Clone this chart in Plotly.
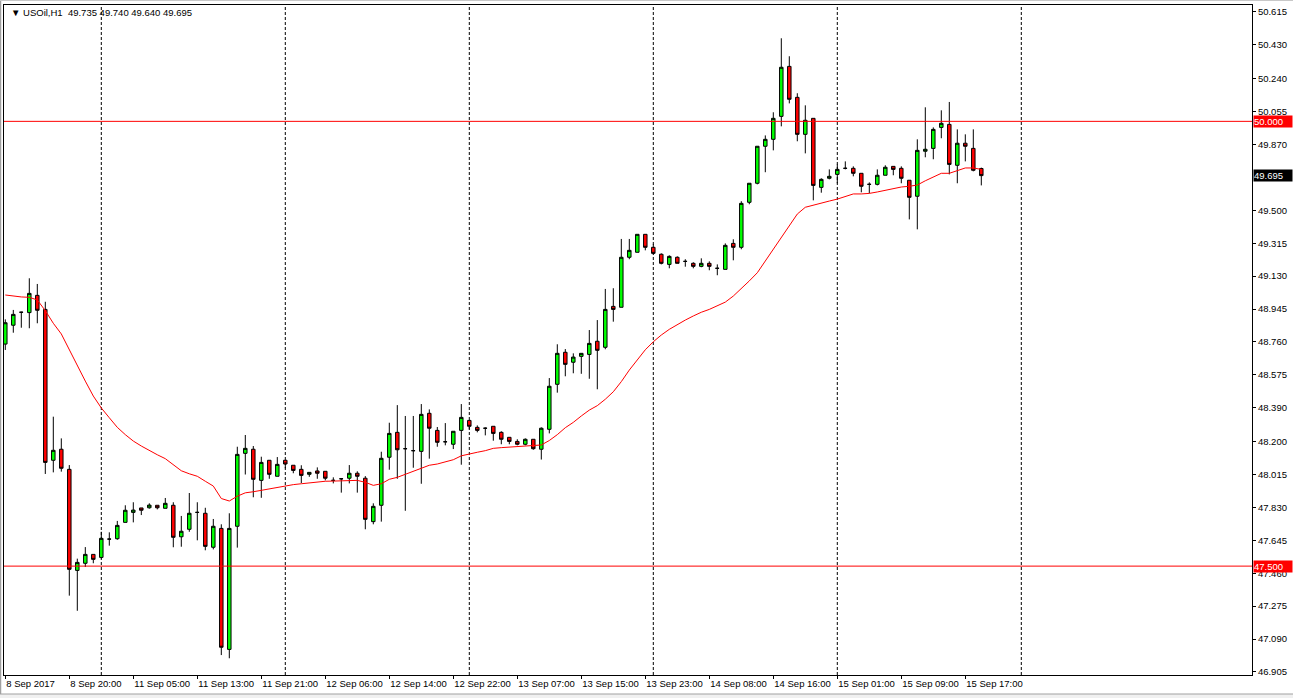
import plotly.graph_objects as go

# ---------------- data ----------------
symbol = "USOil,H1"

opens = [48.748, 48.854, 48.927, 48.925, 49.022, 48.943, 48.095, 48.157, 48.044, 47.476,
         47.516, 47.566, 47.549, 47.652, 47.654, 47.746, 47.802, 47.827, 47.828, 47.842,
         47.825, 47.842, 47.665, 47.707, 47.802, 47.797, 47.606, 47.712, 47.032, 47.724,
         48.134, 48.157, 47.982, 48.095, 48.005, 48.095, 48.067, 48.044, 48.016, 48.035,
         48.033, 47.982, 47.991, 47.994, 48.022, 47.994, 47.750, 47.842, 48.112, 48.252,
         48.160, 48.149, 48.145, 48.359, 48.263, 48.199, 48.185, 48.263, 48.319, 48.280,
         48.275, 48.286, 48.252, 48.224, 48.201, 48.185, 48.213, 48.157, 48.269, 48.522,
         48.702, 48.646, 48.679, 48.690, 48.764, 48.730, 48.960, 48.955, 49.236, 49.264,
         49.365, 49.292, 49.253, 49.196, 49.236, 49.213, 49.202, 49.185, 49.202, 49.174,
         49.168, 49.314, 49.292, 49.545, 49.652, 49.860, 49.899, 50.028, 50.309, 50.135,
         49.927, 50.017, 49.629, 49.680, 49.702, 49.736, 49.736, 49.708, 49.646, 49.646,
         49.697, 49.747, 49.736, 49.669, 49.579, 49.832, 49.848, 49.966, 49.983, 49.753,
         49.877, 49.848, 49.735]

highs = [48.887, 48.940, 48.930, 49.118, 49.086, 48.986, 48.340, 48.218, 48.068, 47.542,
         47.607, 47.566, 47.693, 47.690, 47.754, 47.842, 47.859, 47.827, 47.853, 47.842,
         47.883, 47.859, 47.782, 47.911, 47.859, 47.828, 47.765, 47.735, 47.797, 48.171,
         48.237, 48.175, 48.115, 48.095, 48.113, 48.095, 48.067, 48.067, 48.027, 48.055,
         48.033, 47.999, 47.991, 48.068, 48.033, 48.006, 47.853, 48.143, 48.306, 48.405,
         48.344, 48.344, 48.411, 48.381, 48.282, 48.304, 48.258, 48.411, 48.319, 48.291,
         48.280, 48.286, 48.258, 48.224, 48.213, 48.218, 48.213, 48.280, 48.557, 48.747,
         48.720, 48.696, 48.696, 48.827, 48.883, 49.058, 49.062, 49.339, 49.339, 49.365,
         49.365, 49.309, 49.258, 49.247, 49.241, 49.225, 49.208, 49.230, 49.213, 49.196,
         49.314, 49.337, 49.551, 49.652, 49.860, 49.921, 50.051, 50.467, 50.366, 50.158,
         50.090, 50.017, 49.680, 49.730, 49.758, 49.775, 49.747, 49.708, 49.657, 49.730,
         49.753, 49.747, 49.747, 49.669, 49.899, 50.079, 49.966, 50.062, 50.109, 49.955,
         49.927, 49.955, 49.740]

lows = [48.715, 48.812, 48.840, 48.837, 48.865, 48.018, 48.027, 48.031, 47.334, 47.249,
        47.495, 47.516, 47.542, 47.615, 47.648, 47.746, 47.746, 47.787, 47.823, 47.819,
        47.825, 47.606, 47.609, 47.693, 47.645, 47.589, 47.594, 47.000, 46.982, 47.604,
        48.015, 47.887, 47.884, 47.991, 48.005, 48.050, 48.022, 47.967, 48.002, 47.991,
        47.982, 47.965, 47.913, 47.965, 47.913, 47.707, 47.735, 47.750, 48.042, 47.991,
        47.811, 48.053, 47.963, 48.104, 48.171, 48.179, 48.158, 48.070, 48.269, 48.252,
        48.235, 48.205, 48.185, 48.185, 48.179, 48.179, 48.154, 48.099, 48.246, 48.475,
        48.567, 48.584, 48.581, 48.553, 48.494, 48.719, 48.874, 48.955, 49.225, 49.264,
        49.275, 49.253, 49.196, 49.174, 49.202, 49.183, 49.174, 49.180, 49.163, 49.135,
        49.168, 49.219, 49.281, 49.534, 49.646, 49.714, 49.837, 49.972, 50.101, 49.888,
        49.820, 49.556, 49.599, 49.674, 49.652, 49.730, 49.691, 49.601, 49.596, 49.640,
        49.697, 49.697, 49.652, 49.449, 49.393, 49.798, 49.787, 49.905, 49.702, 49.652,
        49.775, 49.719, 49.640]

closes = [48.868, 48.915, 48.927, 49.033, 48.938, 48.083, 48.151, 48.050, 47.482, 47.521,
          47.566, 47.538, 47.656, 47.652, 47.729, 47.814, 47.815, 47.814, 47.843, 47.828,
          47.853, 47.662, 47.696, 47.797, 47.802, 47.611, 47.724, 47.044, 47.712, 48.128,
          48.162, 47.988, 48.083, 48.016, 48.072, 48.074, 48.038, 48.010, 48.027, 48.022,
          47.994, 47.982, 47.991, 48.022, 48.005, 47.763, 47.836, 48.106, 48.246, 48.154,
          48.160, 48.149, 48.353, 48.275, 48.196, 48.199, 48.258, 48.336, 48.286, 48.263,
          48.275, 48.246, 48.213, 48.201, 48.185, 48.213, 48.160, 48.275, 48.511, 48.696,
          48.634, 48.675, 48.696, 48.752, 48.713, 48.943, 48.943, 49.236, 49.275, 49.365,
          49.292, 49.258, 49.202, 49.241, 49.202, 49.213, 49.185, 49.202, 49.185, 49.174,
          49.303, 49.292, 49.539, 49.652, 49.860, 49.899, 50.017, 50.304, 50.124, 49.927,
          50.006, 49.640, 49.674, 49.691, 49.730, 49.736, 49.708, 49.635, 49.646, 49.697,
          49.742, 49.730, 49.680, 49.573, 49.837, 49.843, 49.955, 49.989, 49.758, 49.877,
          49.860, 49.725, 49.695]

moving_avg = [49.024, 49.018, 49.013, 49.011, 48.996, 48.936, 48.865, 48.805, 48.715, 48.621,
              48.540, 48.456, 48.389, 48.334, 48.280, 48.239, 48.203, 48.175, 48.149, 48.126,
              48.104, 48.068, 48.036, 48.019, 48.005, 47.977, 47.950, 47.880, 47.866, 47.893,
              47.912, 47.918, 47.926, 47.933, 47.943, 47.952, 47.958, 47.963, 47.969, 47.974,
              47.977, 47.978, 47.980, 47.982, 47.982, 47.971, 47.954, 47.963, 47.988, 47.999,
              48.016, 48.029, 48.047, 48.067, 48.074, 48.085, 48.098, 48.120, 48.132, 48.140,
              48.149, 48.162, 48.166, 48.169, 48.171, 48.175, 48.175, 48.181, 48.206, 48.239,
              48.278, 48.308, 48.344, 48.377, 48.402, 48.438, 48.480, 48.537, 48.602, 48.662,
              48.716, 48.761, 48.799, 48.831, 48.859, 48.883, 48.906, 48.927, 48.943, 48.962,
              48.984, 49.018, 49.059, 49.103, 49.149, 49.215, 49.282, 49.350, 49.412, 49.479,
              49.517, 49.530, 49.541, 49.552, 49.563, 49.576, 49.592, 49.592, 49.595, 49.603,
              49.612, 49.621, 49.631, 49.635, 49.642, 49.666, 49.689, 49.708, 49.708, 49.723,
              49.738, 49.738, 49.730]

time_labels = ["8 Sep 2017", "8 Sep 20:00", "11 Sep 05:00", "11 Sep 13:00", "11 Sep 21:00",
               "12 Sep 06:00", "12 Sep 14:00", "12 Sep 22:00", "13 Sep 07:00", "13 Sep 15:00",
               "13 Sep 23:00", "14 Sep 08:00", "14 Sep 16:00", "15 Sep 01:00", "15 Sep 09:00",
               "15 Sep 17:00"]
time_label_bars = [0, 8, 16, 24, 32, 40, 48, 56, 64, 72, 80, 88, 96, 104, 112, 120]
day_start_bars = [12, 35, 58, 81, 104, 127]

price_ticks = [50.615, 50.430, 50.240, 50.055, 49.870, 49.500, 49.315, 49.130,
               48.945, 48.760, 48.575, 48.390, 48.200, 48.015, 47.830, 47.645, 47.460,
               47.275, 47.090, 46.905]
levels = [50.000, 47.500]

# ---------------- figure ----------------
bars = list(range(len(opens)))
FONT = "Liberation Sans, Arial, sans-serif"
FS = 9.5
W, H = 1293, 698
ML, MR, MT, MB = 4, 41, 5, 23
PW, PH = W - ML - MR, H - MT - MB


def px_to_paper_x(px):
    return (px - ML) / PW


def px_to_paper_y(py):
    return 1 - (py - MT) / PH


fig = go.Figure()

fig.add_trace(go.Candlestick(
    x=bars, open=opens, high=highs, low=lows, close=closes,
    increasing=dict(fillcolor="#00FF00", line=dict(color="#000000", width=1)),
    decreasing=dict(fillcolor="#FF0000", line=dict(color="#000000", width=1)),
    whiskerwidth=0, showlegend=False, hoverinfo="skip"))

fig.add_trace(go.Scatter(
    x=bars, y=moving_avg, mode="lines",
    line=dict(color="#FF0000", width=1), showlegend=False, hoverinfo="skip"))

shapes = []
for b in day_start_bars:
    shapes.append(dict(type="line", xref="x", yref="paper", x0=b, x1=b, y0=0, y1=1,
                       line=dict(color="#000000", width=1, dash="3px,2px"), layer="below"))
for lv in levels:
    shapes.append(dict(type="line", xref="paper", yref="y", x0=0, x1=1, y0=lv, y1=lv,
                       line=dict(color="#FF0000", width=1), layer="above"))
# window chrome: grey left/top border and bottom status strip
shapes.append(dict(type="rect", xref="paper", yref="paper",
                   x0=px_to_paper_x(-2), x1=px_to_paper_x(W + 2),
                   y0=px_to_paper_y(H + 2), y1=px_to_paper_y(694),
                   fillcolor="#F0F0F0", line=dict(width=0), layer="below"))
shapes.append(dict(type="line", xref="paper", yref="paper",
                   x0=px_to_paper_x(0), x1=px_to_paper_x(W),
                   y0=px_to_paper_y(694), y1=px_to_paper_y(694),
                   line=dict(color="#A0A0A0", width=1), layer="below"))
shapes.append(dict(type="line", xref="paper", yref="paper",
                   x0=px_to_paper_x(0.5), x1=px_to_paper_x(0.5),
                   y0=px_to_paper_y(0), y1=px_to_paper_y(694),
                   line=dict(color="#A0A0A0", width=1.5), layer="below"))
shapes.append(dict(type="line", xref="paper", yref="paper",
                   x0=px_to_paper_x(0), x1=px_to_paper_x(W),
                   y0=px_to_paper_y(0.5), y1=px_to_paper_y(0.5),
                   line=dict(color="#C8C8C8", width=1), layer="below"))

annotations = [dict(
    xref="paper", yref="paper", x=px_to_paper_x(9), y=px_to_paper_y(12.5),
    xanchor="left", yanchor="middle", showarrow=False,
    text="\u25bc\u00a0" + symbol + "\u00a0\u00a0%.3f %.3f %.3f %.3f" % (opens[-1], highs[-1], lows[-1], closes[-1]),
    font=dict(family=FONT, size=FS, color="#000000"))]
for lv in levels:
    annotations.append(dict(
        xref="paper", yref="y", x=1, y=lv, xanchor="left", yanchor="middle", xshift=1,
        showarrow=False, text="%.3f" % lv, bgcolor="#FF0000", width=38, height=11,
        align="left", borderpad=0,
        font=dict(family=FONT, size=FS, color="#FFFFFF")))
annotations.append(dict(
    xref="paper", yref="y", x=1, y=closes[-1], xanchor="left", yanchor="middle", xshift=1,
    showarrow=False, text="%.3f" % closes[-1], bgcolor="#000000", width=38, height=11,
    align="left", borderpad=0,
    font=dict(family=FONT, size=FS, color="#FFFFFF")))

fig.update_layout(
    width=W, height=H, autosize=False,
    margin=dict(l=ML, r=MR, t=MT, b=MB, pad=0),
    paper_bgcolor="#FFFFFF", plot_bgcolor="#FFFFFF",
    boxgap=0.38,
    shapes=shapes, annotations=annotations,
    font=dict(family=FONT, size=FS, color="#000000"),
    showlegend=False,
    xaxis=dict(
        range=[-0.1625, 155.8375], rangeslider=dict(visible=False),
        showgrid=False, zeroline=False, automargin=False,
        showline=True, linecolor="#000000", linewidth=1, mirror=True,
        tickmode="array", tickvals=time_label_bars, ticktext=time_labels,
        ticks="outside", ticklen=3, tickcolor="#000000", tickwidth=1,
        ticklabelposition="outside right", tickangle=0,
        tickfont=dict(family=FONT, size=FS, color="#000000"),
        fixedrange=True),
    yaxis=dict(
        range=[46.888, 50.654], side="right",
        showgrid=False, zeroline=False, automargin=False,
        showline=True, linecolor="#000000", linewidth=1, mirror=True,
        tickmode="array", tickvals=price_ticks, ticktext=["%.3f" % v for v in price_ticks],
        ticks="outside", ticklen=3, tickcolor="#000000", tickwidth=1,
        tickfont=dict(family=FONT, size=FS, color="#000000"),
        fixedrange=True),
)

fig.write_html("out.html", config={"displayModeBar": False, "staticPlot": True},
               post_script="document.body.style.margin='0';document.body.style.overflow='hidden';")
